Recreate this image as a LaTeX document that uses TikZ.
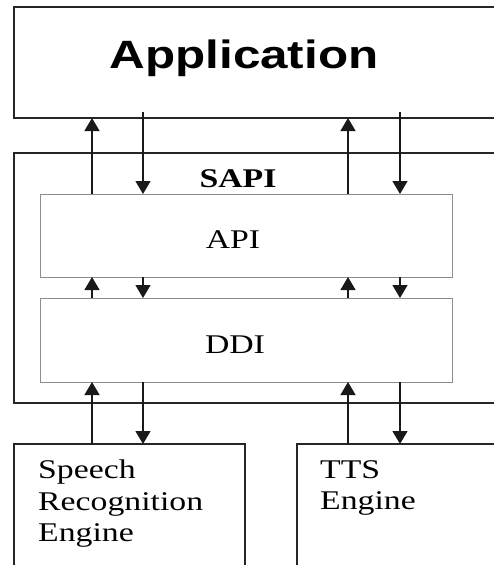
\documentclass[tikz,border=0pt]{standalone}
\usepackage{fontspec}
\setmainfont{Liberation Serif}[FakeStretch=1.25]
\newfontfamily\appfont{Liberation Sans}[FakeStretch=1.25]
\usetikzlibrary{arrows.meta}
\begin{document}
\begin{tikzpicture}[x=1pt,y=-1pt,
  frame/.style={draw=black!85, line width=1.5pt, inner sep=0pt, outer sep=0pt, anchor=north west},
  layer/.style={draw=black!45, line width=1pt, inner sep=0pt, outer sep=0pt, anchor=north west},
  link/.style={line width=1.4pt, draw=black!90, -{Triangle[length=13pt,width=15pt]}},
  serif/.style={font=\fontsize{27}{31.5}\selectfont, inner sep=0pt}]
\useasboundingbox (0,0) rectangle (494,565);
\clip (0,0) rectangle (494,565);
% boxes
\node[frame, minimum width=520pt, minimum height=111pt] (app) at (14,7) {};
\node[frame, minimum width=520pt, minimum height=250pt] (sapi) at (14,153) {};
\node[layer, minimum width=412pt, minimum height=83pt] (api) at (40,194) {};
\node[layer, minimum width=412pt, minimum height=84pt] (ddi) at (40,298) {};
\node[frame, minimum width=231pt, minimum height=150pt] (sre) at (14,444) {};
\node[frame, minimum width=250pt, minimum height=150pt] (tts) at (297,444) {};
% labels
\node[font=\appfont\fontsize{39.5}{47}\selectfont\bfseries, anchor=base, inner sep=0pt] (apptext) at (244,68) {Application};
\node[serif, anchor=base] (sapitext) at (238,187) {\textbf{SAPI}};
\node[serif, anchor=base] (apitext) at (233,248) {API};
\node[serif, anchor=base] (dditext) at (235,353) {DDI};
\node[serif, anchor=north west, align=left] (sretext) at (38,460) {Speech\\Recognition\\Engine};
\node[serif, anchor=north west, align=left] (ttstext) at (320,460) {TTS\\Engine};
% arrow columns
\coordinate (c1) at (92,0);
\coordinate (c2) at (143,0);
\coordinate (c3) at (348,0);
\coordinate (c4) at (400,0);
% application <-> API
\draw[link] (api.north -| c1) -- (app.south -| c1);
\draw[link] ([yshift=6pt]app.south -| c2) -- (api.north -| c2);
\draw[link] (api.north -| c3) -- (app.south -| c3);
\draw[link] ([yshift=6pt]app.south -| c4) -- (api.north -| c4);
% API <-> DDI
\draw[link] (ddi.north -| c1) -- (api.south -| c1);
\draw[link] (api.south -| c2) -- (ddi.north -| c2);
\draw[link] (ddi.north -| c3) -- (api.south -| c3);
\draw[link] (api.south -| c4) -- (ddi.north -| c4);
% DDI <-> engines
\draw[link] (sre.north -| c1) -- (ddi.south -| c1);
\draw[link] (ddi.south -| c2) -- (sre.north -| c2);
\draw[link] (tts.north -| c3) -- (ddi.south -| c3);
\draw[link] (ddi.south -| c4) -- (tts.north -| c4);
\end{tikzpicture}
\end{document}
